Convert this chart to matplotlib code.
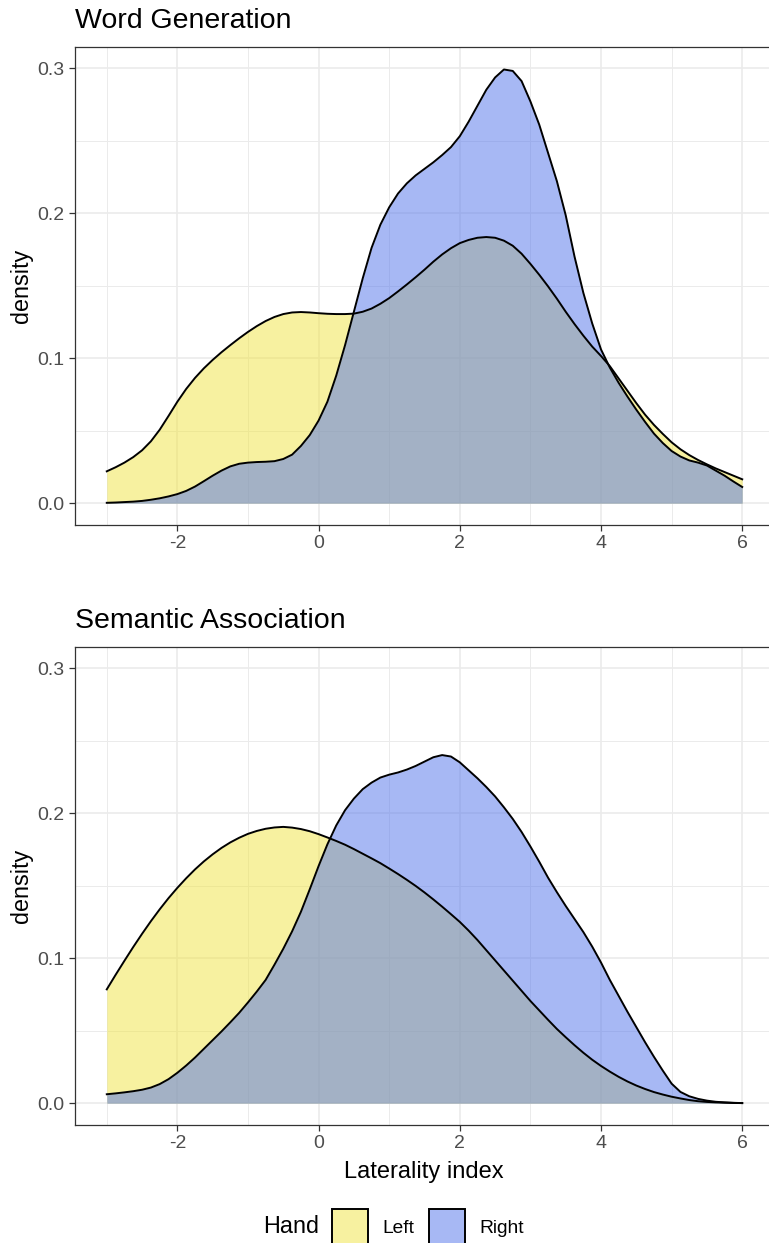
import matplotlib
matplotlib.use("Agg")
import matplotlib.pyplot as plt
import numpy as np
from matplotlib.colors import to_rgba
from matplotlib.patches import Patch
from matplotlib.ticker import MultipleLocator, FormatStrFormatter

plt.rcParams["font.family"] = ["Liberation Sans", "DejaVu Sans"]
plt.rcParams["axes.unicode_minus"] = False

# laterality index grid (step 0.125), density values
lat = np.arange(-3, 6.001, 0.125)

wg_left = [
    0.0220, 0.0248, 0.0280, 0.0318, 0.0365, 0.0427, 0.0507, 0.0602, 0.0700,
    0.0788, 0.0864, 0.0930, 0.0988, 0.1041, 0.1090, 0.1137, 0.1181, 0.1221,
    0.1256, 0.1284, 0.1304, 0.1315, 0.1318, 0.1315, 0.1310, 0.1306, 0.1304,
    0.1304, 0.1307, 0.1320, 0.1342, 0.1375, 0.1414, 0.1460, 0.1508, 0.1558,
    0.1610, 0.1665, 0.1715, 0.1758, 0.1793, 0.1815, 0.1830, 0.1835, 0.1830,
    0.1810, 0.1775, 0.1720, 0.1650, 0.1575, 0.1495, 0.1410, 0.1320, 0.1235,
    0.1155, 0.1080, 0.1015, 0.0945, 0.0860, 0.0775, 0.0690, 0.0610, 0.0540,
    0.0478, 0.0420, 0.0372, 0.0332, 0.0298, 0.0268, 0.0240, 0.0215, 0.0190,
    0.0165]
wg_right = [
    0.0003, 0.0005, 0.0008, 0.0011, 0.0016, 0.0024, 0.0034, 0.0047, 0.0063,
    0.0085, 0.0115, 0.0152, 0.0190, 0.0225, 0.0254, 0.0272, 0.0280, 0.0284,
    0.0286, 0.0290, 0.0305, 0.0335, 0.0395, 0.0470, 0.0570, 0.0700, 0.0880,
    0.1090, 0.1320, 0.1550, 0.1760, 0.1920, 0.2040, 0.2135, 0.2205, 0.2260,
    0.2305, 0.2350, 0.2400, 0.2455, 0.2530, 0.2630, 0.2740, 0.2850, 0.2935,
    0.2990, 0.2980, 0.2910, 0.2770, 0.2610, 0.2415, 0.2220, 0.1985, 0.1700,
    0.1450, 0.1240, 0.1060, 0.0935, 0.0830, 0.0735, 0.0645, 0.0560, 0.0480,
    0.0415, 0.0360, 0.0322, 0.0295, 0.0280, 0.0260, 0.0225, 0.0190, 0.0150,
    0.0112]
sa_left = [
    0.0785, 0.0885, 0.0982, 0.1077, 0.1168, 0.1255, 0.1337, 0.1414, 0.1485,
    0.1551, 0.1612, 0.1667, 0.1716, 0.1760, 0.1798, 0.1830, 0.1857, 0.1877,
    0.1892, 0.1901, 0.1905, 0.1900, 0.1890, 0.1875, 0.1855, 0.1832, 0.1808,
    0.1782, 0.1752, 0.1720, 0.1688, 0.1655, 0.1618, 0.1580, 0.1540, 0.1498,
    0.1453, 0.1405, 0.1355, 0.1303, 0.1250, 0.1190, 0.1125, 0.1055, 0.0985,
    0.0915, 0.0845, 0.0775, 0.0705, 0.0640, 0.0575, 0.0512, 0.0455, 0.0400,
    0.0348, 0.0300, 0.0257, 0.0218, 0.0182, 0.0150, 0.0122, 0.0098, 0.0077,
    0.0060, 0.0045, 0.0033, 0.0022, 0.0014, 0.0009, 0.0006, 0.0004, 0.0002,
    0.0001]
sa_right = [
    0.0062, 0.0068, 0.0075, 0.0083, 0.0093, 0.0108, 0.0132, 0.0166, 0.0210,
    0.0260, 0.0315, 0.0375, 0.0435, 0.0495, 0.0558, 0.0623, 0.0695, 0.0770,
    0.0850, 0.0955, 0.1065, 0.1185, 0.1320, 0.1475, 0.1635, 0.1785, 0.1915,
    0.2020, 0.2100, 0.2165, 0.2210, 0.2245, 0.2265, 0.2280, 0.2300, 0.2325,
    0.2355, 0.2385, 0.2400, 0.2390, 0.2350, 0.2295, 0.2240, 0.2180, 0.2115,
    0.2040, 0.1960, 0.1870, 0.1770, 0.1665, 0.1555, 0.1455, 0.1360, 0.1270,
    0.1180, 0.1080, 0.0970, 0.0850, 0.0740, 0.0630, 0.0525, 0.0420, 0.0320,
    0.0225, 0.0135, 0.0078, 0.0048, 0.0030, 0.0018, 0.0010, 0.0006, 0.0003,
    0.0001]

panels = [("Word Generation", wg_left, wg_right),
          ("Semantic Association", sa_left, sa_right)]
hands = ["Left", "Right"]
fills = {"Left": "#F0E442", "Right": "#5173EB"}

W, H = 769, 1243
fig = plt.figure(figsize=(W / 100, H / 100), dpi=100)

# panel boxes in pixels: (left, top, right, bottom)
boxes = [(75, 47, 774, 525), (75, 647, 774, 1125)]

for (title, left, right), (x0, y0, x1, y1) in zip(panels, boxes):
    ax = fig.add_axes([x0 / W, 1 - y1 / H, (x1 - x0) / W, (y1 - y0) / H])
    for hand, vals in zip(hands, [left, right]):
        ax.fill_between(lat, 0, vals, color=fills[hand], alpha=0.5, lw=0)
        ax.plot(lat, vals, color="black", lw=1.4, solid_joinstyle="round")
    ax.set_xlim(-3.45, 6.45)
    ax.set_ylim(-0.015, 0.3145)
    ax.xaxis.set_major_locator(MultipleLocator(2))
    ax.xaxis.set_minor_locator(MultipleLocator(1))
    ax.yaxis.set_major_locator(MultipleLocator(0.1))
    ax.yaxis.set_minor_locator(MultipleLocator(0.05))
    ax.yaxis.set_major_formatter(FormatStrFormatter("%.1f"))
    ax.set_axisbelow(True)
    ax.grid(which="major", color="#EBEBEB", lw=1.2)
    ax.grid(which="minor", color="#EBEBEB", lw=0.7)
    ax.tick_params(which="major", length=4.5, width=0.9, color="#333333",
                   labelcolor="#4D4D4D", labelsize=14, pad=3)
    ax.tick_params(which="minor", length=0)
    for s in ax.spines.values():
        s.set_color("#333333")
        s.set_linewidth(0.9)
    fig.text(x0 / W, 1 - (y0 - 19) / H, title, fontsize=20.5,
             ha="left", va="baseline")
    fig.text(21 / W, 1 - (y0 + y1) / 2 / H, "density", fontsize=16.8,
             rotation=90, ha="center", va="center")

fig.text(424 / W, 1 - 1178 / H, "Laterality index", fontsize=17,
         ha="center", va="baseline")

# legend
fig.text(263 / W, 1 - 1233 / H, "Hand", fontsize=16.8, ha="left",
         va="baseline")
handles = [Patch(facecolor=to_rgba(fills[h], 0.5), edgecolor="black", lw=1.4)
           for h in hands]
fig.legend(handles, hands, loc="upper left",
           bbox_to_anchor=(332 / W, 1 - 1209 / H), ncol=2, frameon=False,
           fontsize=13.8, handlelength=1.9, handleheight=2.6,
           handletextpad=0.75, columnspacing=0.75, borderpad=0,
           borderaxespad=0)

fig.savefig("out.png", dpi=100)
